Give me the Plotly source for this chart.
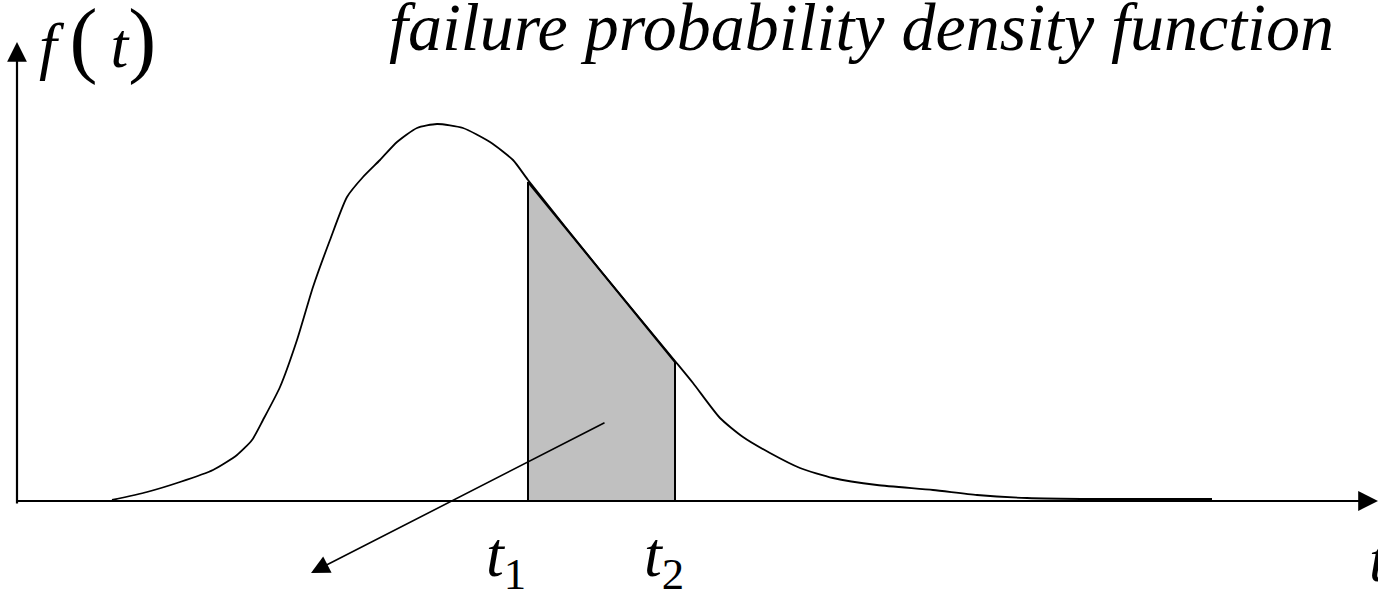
import plotly.graph_objects as go

# density curve (t, f)
t_curve = [0.95, 1.30, 1.63, 1.96, 2.20, 2.35, 2.46, 2.63, 2.80, 2.96, 3.13, 3.30, 3.46, 3.63, 3.80,
           4.00, 4.20, 4.46, 4.73, 4.96, 5.11, 5.83, 6.58, 6.76, 7.03, 7.26, 7.53, 7.83, 8.16,
           8.60, 9.16, 9.60, 10.10, 10.76, 11.95]
f_curve = [0.01, 0.09, 0.19, 0.31, 0.46, 0.61, 0.81, 1.14, 1.61, 2.14, 2.61, 3.04, 3.24, 3.41, 3.59,
           3.73, 3.77, 3.73, 3.59, 3.41, 3.21, 2.31, 1.40, 1.18, 0.83, 0.64, 0.48, 0.33, 0.23,
           0.16, 0.11, 0.06, 0.03, 0.02, 0.02]

# shaded interval
t1, t2 = 5.11, 6.58
f_t1, f_t2 = 3.19, 1.39
shade_t = [t1, t1, t2, t2, t1]
shade_f = [0.0, f_t1, f_t2, 0.0, 0.0]

# arrow from shaded area (tail -> head)
arrow_tail = (5.89, 0.79)
arrow_head = (2.94, -0.72)

x_range = [-0.17, 13.61]
y_range = [-0.91, 5.01]

FONT = "Liberation Serif, Times New Roman, DejaVu Serif, serif"

fig = go.Figure()
fig.add_trace(go.Scatter(x=shade_t, y=shade_f, mode="lines", fill="toself",
                         fillcolor="#c0c0c0", line=dict(color="black", width=2),
                         hoverinfo="skip", showlegend=False))
fig.add_trace(go.Scatter(x=t_curve, y=f_curve, mode="lines",
                         line=dict(color="black", width=1.8, shape="spline", smoothing=0.6),
                         hoverinfo="skip", showlegend=False))

ann = []
# x axis
ann.append(dict(x=13.61, y=0.0, ax=-0.02, ay=0.0, xref="x", yref="y", axref="x", ayref="y",
                text="", showarrow=True, arrowhead=2, arrowsize=1.8, arrowwidth=2.2,
                arrowcolor="black", standoff=0))
# y axis
ann.append(dict(x=0.0, y=4.59, ax=0.0, ay=-0.04, xref="x", yref="y", axref="x", ayref="y",
                text="", showarrow=True, arrowhead=2, arrowsize=1.8, arrowwidth=2.2,
                arrowcolor="black", standoff=0))
# pointer arrow
ann.append(dict(x=arrow_head[0], y=arrow_head[1], ax=arrow_tail[0], ay=arrow_tail[1],
                xref="x", yref="y", axref="x", ayref="y", text="", showarrow=True,
                arrowhead=2, arrowsize=2.3, arrowwidth=1.6, arrowcolor="black", standoff=0))

ann.append(dict(x=8.44, y=4.74, xref="x", yref="y", showarrow=False,
                text="<i>failure probability density function</i>",
                font=dict(family=FONT, size=68, color="black")))
ann.append(dict(x=0.80, y=4.62, xref="x", yref="y", showarrow=False,
                text="<i>f</i>\u2009<span style='font-size:84px'>(</span>\u2009<i>t</i><span style='font-size:84px'>)</span>",
                font=dict(family=FONT, size=64, color="black")))
ann.append(dict(x=t1 - 0.22, y=-0.58, xref="x", yref="y", showarrow=False,
                text="<i>t</i><sub>1</sub>", font=dict(family=FONT, size=64, color="black")))
ann.append(dict(x=t2 - 0.11, y=-0.58, xref="x", yref="y", showarrow=False,
                text="<i>t</i><sub>2</sub>", font=dict(family=FONT, size=64, color="black")))
ann.append(dict(x=13.50, y=-0.58, xref="x", yref="y", showarrow=False, xanchor="left",
                text="<i>t</i>", font=dict(family=FONT, size=64, color="black")))

fig.update_layout(
    width=1378, height=592, margin=dict(l=0, r=0, t=0, b=0),
    paper_bgcolor="white", plot_bgcolor="white",
    xaxis=dict(range=x_range, visible=False, fixedrange=True),
    yaxis=dict(range=y_range, visible=False, fixedrange=True),
    annotations=ann, showlegend=False,
)
fig.write_html("out.html", post_script="document.body.style.margin='0px';",
               config={"displayModeBar": False})
